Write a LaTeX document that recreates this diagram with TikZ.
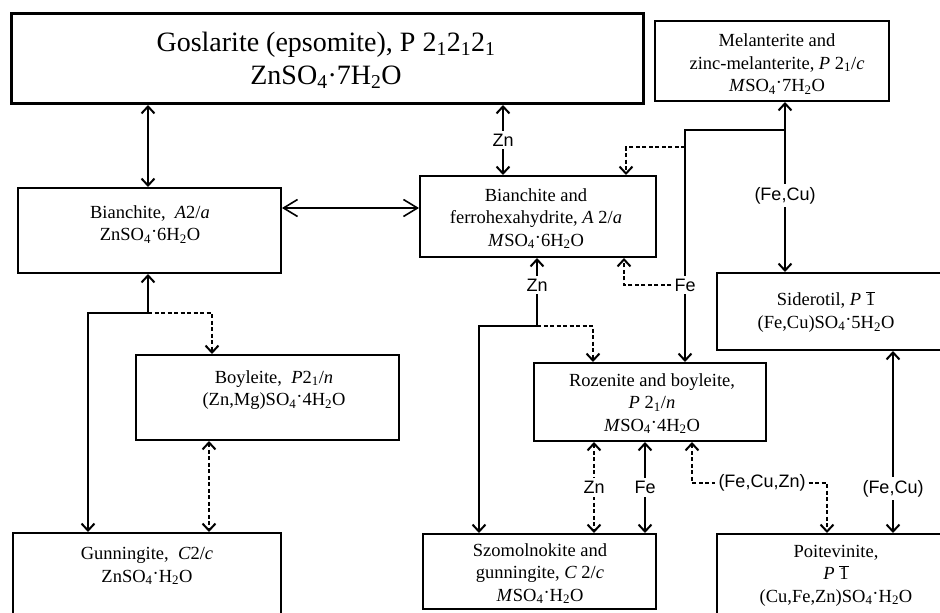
\documentclass[tikz,border=0pt]{standalone}
\usepackage{fontspec}
\setmainfont{Liberation Serif}
\newfontfamily\lblfont{Liberation Sans}
\usetikzlibrary{arrows.meta,calc}
\newcommand{\hdot}{\raisebox{0.35ex}{·}}
\newcommand{\ibar}{\ensuremath{\overline{\mbox{1}}}}
\newcommand{\sub}[1]{\textsubscript{#1}}
\begin{document}
\begin{tikzpicture}[x=1pt,y=-1pt,
  box/.style={draw, line width=2pt, inner sep=0pt, anchor=north west},
  txt/.style={align=center, font=\fontsize{18.5}{22.5}\selectfont, inner sep=0pt},
  lbl/.style={font=\lblfont\fontsize{18}{20}\selectfont, fill=white, inner sep=3pt},
  con/.style={line width=2pt},
  dsh/.style={line width=2pt, dash pattern=on 4pt off 2.5pt},
  tip/.style={-{Straight Barb[length=7pt,width=13pt]}},
  rtip/.style={{Straight Barb[length=7pt,width=13pt]}-},
  dbl/.style={{Straight Barb[length=7pt,width=13pt]}-{Straight Barb[length=7pt,width=13pt]}},
  bigdbl/.style={{Straight Barb[length=14pt,width=17pt]}-{Straight Barb[length=14pt,width=17pt]}}
]
\clip (0,0) rectangle (940,613);
\fill[white] (0,0) rectangle (940,613);

% boxes
\node[box, line width=3pt, minimum width=632, minimum height=90] (gos) at (10,12) {};
\node[box, minimum width=234, minimum height=80] (mel) at (654,20) {};
\node[box, minimum width=263, minimum height=85] (bian) at (17,187) {};
\node[box, minimum width=236, minimum height=81] (bfer) at (419,175) {};
\node[box, minimum width=240, minimum height=77] (sid) at (716,272) {};
\node[box, minimum width=232, minimum height=78] (roz) at (533,362) {};
\node[box, minimum width=263, minimum height=85] (boy) at (135,354) {};
\node[box, minimum width=268, minimum height=100] (gun) at (12,532) {};
\node[box, minimum width=233, minimum height=75] (szo) at (422,533) {};
\node[box, minimum width=250, minimum height=100] (poi) at (716,533) {};

% texts
\node[txt, font=\fontsize{28}{33}\selectfont] (gosT) at (326,60)
  {Goslarite (epsomite), P 2\sub{1}2\sub{1}2\sub{1}\\ZnSO\sub{4}·7H\sub{2}O};
\node[txt] (melT) at (777,64)
  {Melanterite and\\zinc-melanterite, \textit{P} 2\sub{1}/\textit{c}\\\textit{M}SO\sub{4}\hdot7H\sub{2}O};
\node[txt] (bianT) at (150,224.5)
  {Bianchite,\ \ \textit{A}2/\textit{a}\\ZnSO\sub{4}\hdot6H\sub{2}O};
\node[txt] (bferT) at (536,218.7)
  {Bianchite and\\ferrohexahydrite, \textit{A} 2/\textit{a}\\\textit{M}SO\sub{4}\hdot6H\sub{2}O};
\node[txt] (sidT) at (826,312)
  {Siderotil, \textit{P} \ibar\\(Fe,Cu)SO\sub{4}\hdot5H\sub{2}O};
\node[txt] (rozT) at (652,403.7)
  {Rozenite and boyleite,\\\textit{P} 2\sub{1}/\textit{n}\\\textit{M}SO\sub{4}\hdot4H\sub{2}O};
\node[txt] (boyT) at (274,390)
  {Boyleite,\ \ \textit{P}2\sub{1}/\textit{n}\\(Zn,Mg)SO\sub{4}\hdot4H\sub{2}O};
\node[txt] (gunT) at (147,566)
  {Gunningite,\ \ \textit{C}2/\textit{c}\\ZnSO\sub{4}\hdot H\sub{2}O};
\node[txt] (szoT) at (540,573.4)
  {Szomolnokite and\\gunningite, \textit{C} 2/\textit{c}\\\textit{M}SO\sub{4}\hdot H\sub{2}O};
\node[txt] (poiT) at (836,575.7)
  {Poitevinite,\\\textit{P} \ibar\\(Cu,Fe,Zn)SO\sub{4}\hdot H\sub{2}O};

% junction coordinates
\coordinate (j1) at (685,130);
\coordinate (j2) at (785,130);
\coordinate (j5) at (685,147);
\coordinate (j3) at (537,326);
\coordinate (j4) at (148,313);

% connectors
\draw[con,dbl] (148,0 |- gos.south) -- (148,0 |- bian.north);
\draw[line width=1.6pt,bigdbl] (bian.east |- 0,208) -- (bfer.west |- 0,208);
\draw[con,dbl] (503,0 |- gos.south) -- node[lbl]{Zn} (503,0 |- bfer.north);

\draw[con,dbl] (785,0 |- mel.south) -- node[lbl,pos=0.55]{(Fe,Cu)} (785,0 |- sid.north);
\node[lbl] (feA) at (685,285) {Fe};
\draw[con] (j2) -- (j1) -- (feA.north);
\draw[con,tip] (feA.south) -- (685,0 |- roz.north);
\draw[dsh,tip] (j5) -- (626,147) -- (626,0 |- bfer.north);
\draw[dsh,tip] (feA.west) -- (624,0 |- feA.west) -- (624,0 |- bfer.south);

\node[lbl] (znB) at (537,285) {Zn};
\draw[con,tip] (znB.north) -- (537,0 |- bfer.south);
\draw[con,tip] (znB.south) -- (j3) -- (479,326) -- (479,0 |- szo.north);
\draw[dsh,tip] (j3) -- (593,326) -- (593,0 |- roz.north);

\draw[dsh,dbl] (594,0 |- roz.south) -- node[lbl]{Zn} (594,0 |- szo.north);
\draw[con,dbl] (645,0 |- roz.south) -- node[lbl]{Fe} (645,0 |- szo.north);
\node[lbl] (fcz) at (762,483) {(Fe,Cu,Zn)};
\draw[dsh,rtip] (692,0 |- roz.south) -- (692,483) -- (fcz.west);
\draw[dsh,tip] (fcz.east) -- (827,483) -- (827,0 |- poi.north);
\draw[con,dbl] (893,0 |- sid.south) -- node[lbl,pos=0.755]{(Fe,Cu)} (893,0 |- poi.north);

\draw[con,tip] (j4) -- (148,0 |- bian.south);
\draw[con,tip] (j4) -- (88,313) -- (88,0 |- gun.north);
\draw[dsh,tip] (j4) -- (212,313) -- (212,0 |- boy.north);
\draw[dsh,dbl] (209,0 |- boy.south) -- (209,0 |- gun.north);
\end{tikzpicture}
\end{document}
